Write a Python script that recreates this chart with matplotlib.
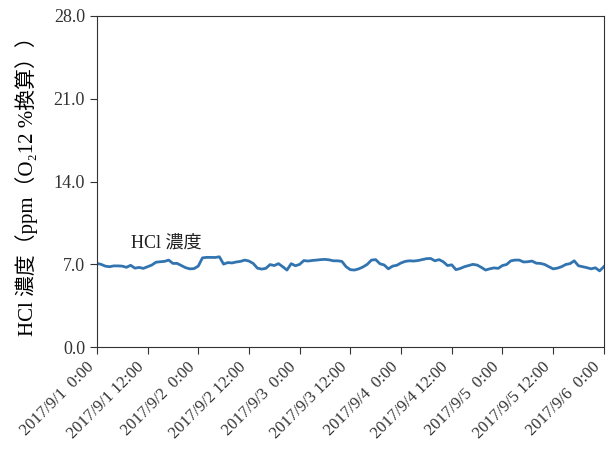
import numpy as np
import pandas as pd
import matplotlib
matplotlib.use('Agg')
import matplotlib.pyplot as plt

plt.rcParams['font.family'] = ['Liberation Serif', 'Noto Sans CJK JP', 'DejaVu Sans']

#-----------------------------------------------------------------------------
# hourly HCl concentration, 2017/9/1 0:00 - 2017/9/6 0:00
hcl = [7.08, 7.00, 6.85, 6.80, 6.87, 6.87, 6.85, 6.75, 6.92, 6.68,
       6.74, 6.66, 6.80, 6.94, 7.18, 7.22, 7.25, 7.36, 7.08, 7.08,
       6.90, 6.72, 6.62, 6.64, 6.85, 7.55, 7.59, 7.59, 7.58, 7.64,
       7.02, 7.15, 7.12, 7.20, 7.25, 7.36, 7.28, 7.08, 6.68, 6.60,
       6.66, 6.98, 6.90, 7.06, 6.80, 6.52, 7.06, 6.88, 7.00, 7.32,
       7.28, 7.33, 7.36, 7.40, 7.42, 7.38, 7.30, 7.30, 7.25, 6.80,
       6.55, 6.52, 6.62, 6.78, 7.00, 7.36, 7.40, 7.05, 6.95, 6.62,
       6.85, 6.92, 7.12, 7.25, 7.30, 7.28, 7.32, 7.40, 7.48, 7.50,
       7.30, 7.40, 7.22, 6.90, 6.96, 6.55, 6.65, 6.80, 6.90, 7.00,
       6.94, 6.75, 6.52, 6.62, 6.70, 6.66, 6.90, 6.99, 7.30, 7.36,
       7.36, 7.20, 7.22, 7.28, 7.10, 7.08, 6.99, 6.80, 6.62, 6.68,
       6.80, 6.99, 7.06, 7.30, 6.88, 6.80, 6.72, 6.62, 6.71, 6.45,
       6.80]
times = pd.date_range('2017-09-01 00:00', periods=len(hcl), freq='h')

tick_times = pd.date_range('2017-09-01 00:00', '2017-09-06 00:00', freq='12h')
tick_labels = ['2017/9/1  0:00', '2017/9/1 12:00', '2017/9/2  0:00', '2017/9/2 12:00',
               '2017/9/3  0:00', '2017/9/3 12:00', '2017/9/4  0:00', '2017/9/4 12:00',
               '2017/9/5  0:00', '2017/9/5 12:00', '2017/9/6  0:00']
y_ticks = [0.0, 7.0, 14.0, 21.0, 28.0]

#-----------------------------------------------------------------------------
fig = plt.figure(figsize=(6.13, 4.55), dpi=100)
ax = fig.add_axes([0.158, 0.237, 0.827, 0.728])

ax.plot(times, hcl, color='#3274b0', lw=2)
ax.text(times[8], 8.4, 'HCl 濃度', fontsize=13, color='#222222')

ax.set_xlim(tick_times[0], tick_times[-1])
ax.set_ylim(0, 28)
ax.set_yticks(y_ticks)
ax.set_yticklabels(['%.1f' % v for v in y_ticks], fontsize=13)
ax.set_xticks(tick_times)
ax.set_xticklabels(tick_labels, rotation=45, ha='right', fontsize=12)
ax.set_ylabel('HCl 濃度（ppm（O₂12 %換算））', fontsize=15, labelpad=11)

for s in ax.spines.values():
    s.set_color('#333333')
ax.tick_params(colors='#333333', length=5)

fig.savefig('out.png', dpi=100)
